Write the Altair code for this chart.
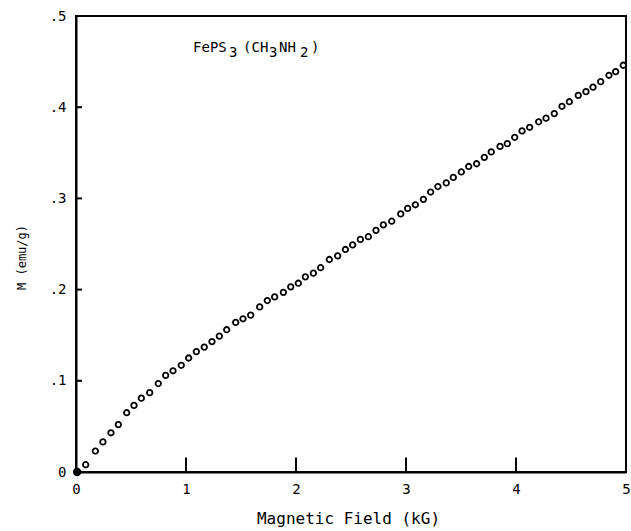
import altair as alt
import pandas as pd

field_kG = [0.088, 0.176, 0.245, 0.318, 0.385, 0.461, 0.527, 0.594, 0.670, 0.748,
            0.815, 0.882, 0.957, 1.024, 1.094, 1.166, 1.236, 1.303, 1.370, 1.452,
            1.518, 1.588, 1.670, 1.739, 1.806, 1.885, 1.952, 2.021, 2.085, 2.158,
            2.224, 2.303, 2.379, 2.449, 2.515, 2.585, 2.658, 2.727, 2.794, 2.870,
            2.952, 3.015, 3.085, 3.158, 3.224, 3.290, 3.366, 3.430, 3.503, 3.570,
            3.642, 3.712, 3.775, 3.855, 3.921, 3.988, 4.055, 4.124, 4.206, 4.273,
            4.348, 4.418, 4.485, 4.566, 4.636, 4.700, 4.770, 4.845, 4.906, 4.975]
moment = [0.008, 0.023, 0.033, 0.043, 0.052, 0.065, 0.073, 0.081, 0.087, 0.097,
          0.106, 0.111, 0.117, 0.125, 0.132, 0.137, 0.143, 0.149, 0.156, 0.164,
          0.168, 0.172, 0.181, 0.188, 0.192, 0.197, 0.203, 0.207, 0.214, 0.218,
          0.224, 0.233, 0.237, 0.244, 0.249, 0.255, 0.258, 0.265, 0.271, 0.275,
          0.283, 0.289, 0.293, 0.299, 0.307, 0.313, 0.317, 0.323, 0.329, 0.335,
          0.338, 0.345, 0.351, 0.357, 0.360, 0.367, 0.374, 0.378, 0.384, 0.388,
          0.393, 0.401, 0.406, 0.413, 0.417, 0.422, 0.428, 0.435, 0.439, 0.446]
origin_x = [0.01]
origin_y = [0.0]
x_ticks = [1.0, 2.0, 3.0, 4.0]
y_ticks = [0.1, 0.2, 0.3, 0.4]
# sample label "FePS3 (CH3NH2)" split into normal / subscript pieces
label_parts = ["FePS", "3", "(CH", "3", "NH", "2", ")"]
label_is_sub = [False, True, False, True, False, True, False]
label_x = 1.064
label_y = 0.465

FONT = "DejaVu Sans Mono"

df = pd.DataFrame({"H": field_kG, "M": moment})
df0 = pd.DataFrame({"H": origin_x, "M": origin_y})
# inward x tick marks (length given in data units of the y axis)
dxt = pd.DataFrame({"H": x_ticks, "M0": [0.0] * len(x_ticks), "M1": [0.016] * len(x_ticks)})
# inward y tick marks, drawn as short horizontal symbols starting at the y axis
dyt = pd.DataFrame({"H": [0.0] * len(y_ticks), "M": y_ticks})

xs = alt.Scale(domain=[0, 5], nice=False, zero=False)
ys = alt.Scale(domain=[0, 0.5], nice=False, zero=False)

xaxis = alt.Axis(
    values=[0, 1, 2, 3, 4, 5], tickSize=0, grid=False, labelFontSize=14,
    labelFont=FONT, labelPadding=10, labelColor="black", domainColor="black",
    labelFlush=False, labelExpr="format(datum.value, 'd')",
    domainWidth=2, title="Magnetic Field  (kG)", titleFont=FONT, titleFontSize=16,
    titleFontWeight="normal", titleX=272, titleY=46, titleBaseline="middle",
    titleColor="black",
)
yaxis = alt.Axis(
    values=[0, 0.1, 0.2, 0.3, 0.4, 0.5], tickSize=0, grid=False, labelFontSize=14,
    labelFont=FONT, labelPadding=10, labelColor="black", domainColor="black",
    domainWidth=2, labelFlush=False,
    labelExpr="datum.value == 0 ? '0' : replace(format(datum.value, '.1f'), '0.', '.')",
    title="M  (emu/g)", titleFont=FONT, titleFontSize=12, titleFontWeight="normal",
    titleAngle=-90, titleX=-55, titleY=241, titleBaseline="middle", titleColor="black",
)

pts = alt.Chart(df).mark_point(shape="circle", filled=False, size=30,
                               strokeWidth=1.8, color="black", opacity=1).encode(
    x=alt.X("H:Q", scale=xs, axis=xaxis),
    y=alt.Y("M:Q", scale=ys, axis=yaxis),
)
orig = alt.Chart(df0).mark_point(shape="circle", filled=True, size=70,
                                 color="black", opacity=1).encode(
    x=alt.X("H:Q", scale=xs), y=alt.Y("M:Q", scale=ys))

xt = alt.Chart(dxt).mark_rule(color="black", strokeWidth=2).encode(
    x=alt.X("H:Q", scale=xs), y=alt.Y("M0:Q", scale=ys), y2="M1:Q")
yt = alt.Chart(dyt).mark_point(shape="M0,0L2,0", filled=False, size=36,
                               strokeWidth=2, color="black", opacity=1).encode(
    x=alt.X("H:Q", scale=xs), y=alt.Y("M:Q", scale=ys))

# offsets in pixels of each label piece (monospace font)
offsets = [0, 36, 50, 76, 86, 107, 118]
lab_layers = []
for part, sub, off in zip(label_parts, label_is_sub, offsets):
    lab_layers.append(
        alt.Chart(pd.DataFrame({"text": [part], "H": [label_x], "M": [label_y]}))
        .mark_text(font=FONT, fontSize=14, align="left", baseline="middle",
                   color="black", dx=off, dy=5 if sub else 0)
        .encode(x=alt.X("H:Q", scale=xs), y=alt.Y("M:Q", scale=ys), text="text:N")
    )

chart = alt.layer(pts, orig, xt, yt, *lab_layers).properties(
    width=550, height=456,
    autosize=alt.AutoSizeParams(type="none"),
    padding={"left": 76, "top": 16, "right": 5, "bottom": 59},
    background="white",
).configure_view(stroke="black", strokeWidth=2)

chart.save("out.html", embed_options={"renderer": "svg", "actions": False})
